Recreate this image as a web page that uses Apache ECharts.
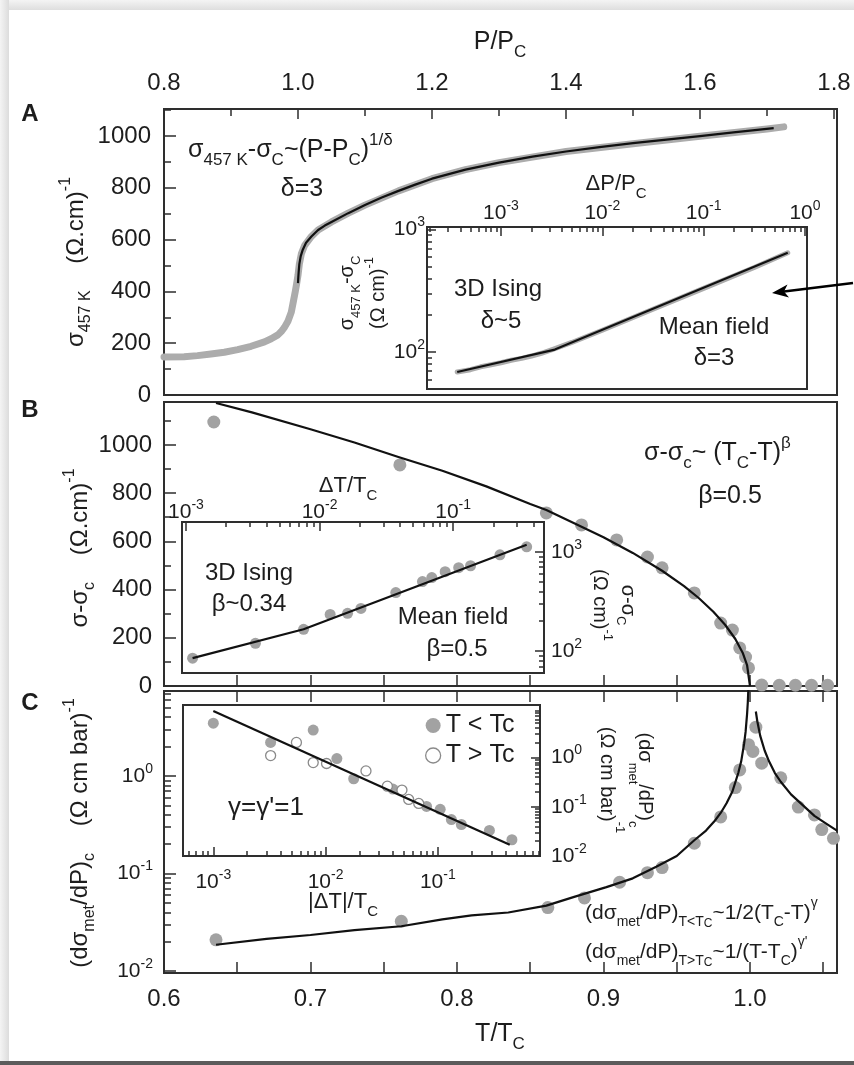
<!DOCTYPE html>
<html><head><meta charset="utf-8">
<script src="https://cdn.jsdelivr.net/npm/echarts@6/dist/echarts.min.js"></script>
<style>html,body{margin:0;padding:0;background:#fff}#c{width:854px;height:1065px}</style>
</head><body><div id="c"></div><script>
// ================= DATA =================
// Panel A: sigma(457 K) vs P/Pc
const pA      = [0.80,0.83,0.85,0.87,0.89,0.91,0.93,0.95,0.96,0.97,0.975,0.98,0.985,0.99,0.993,0.996,0.998,1.000,1.002,1.005,1.01,1.02,1.03,1.05,1.075,1.10,1.15,1.20,1.25,1.30,1.40,1.50,1.60,1.70,1.725];
const sigmaA  = [147,148,152,158,165,175,188,205,217,232,245,262,285,320,360,400,430,462,505,545,578,612,637,668,702,733,788,835,870,897,940,970,999,1027,1035];
const pAFit   = [1.000,1.0005,1.001,1.002,1.004,1.007,1.012,1.02,1.03,1.04,1.05,1.075,1.10,1.125,1.15,1.175,1.20,1.25,1.30,1.35,1.40,1.45,1.50,1.55,1.60,1.65,1.71];
const sigmaAFit = [432,455,475,505,535,560,588,612,637,654,668,702,733,762,788,812,835,870,897,920,940,957,972,986,999,1014,1030];
// Panel A inset: sigma457K - sigmaC vs dP/Pc (log-log)
const dPIn    = [0.00037,0.0005,0.00063,0.0008,0.001,0.00126,0.0016,0.002,0.0025,0.0032,0.005,0.01,0.0316,0.1,0.316,0.676];
const dSigIn  = [69,72,76,79,82,86,89,93,98,105,120,151,224,331,490,646];
const dPFit   = [0.00037,0.0034,0.676];
const dSigFit = [69,105,646];
// Panel B: sigma - sigma_c vs T/Tc
const tB      = [0.634,0.761,0.861,0.885,0.909,0.930,0.940,0.962,0.980,0.988,0.993,0.997,0.999,1.008,1.020,1.031,1.042,1.053];
const sigB    = [1095,917,718,668,606,535,490,386,261,232,158,120,75,4,3,3,3,3];
const tBFit   = [0.6355,0.66,0.70,0.73,0.76,0.79,0.82,0.85,0.861,0.88,0.90,0.92,0.94,0.955,0.965,0.975,0.983,0.99,0.995,0.998,1.0];
const sigBFit = [1174,1135,1065,1010,950,893,828,755,730,675,617,552,478,414,365,308,254,195,138,87,0];
// Panel B inset: log-log vs dT/Tc
const dTBIn   = [0.00112,0.00331,0.00759,0.0120,0.0162,0.0204,0.0372,0.0589,0.0692,0.0871,0.110,0.135,0.224,0.355];
const sigBIn  = [85,120,166,234,240,269,389,501,550,631,692,724,933,1122];
const dTBFit  = [0.00112,0.00759,0.355];
const sigBFitIn = [85,166,1175];
// Panel C: (d sigma_met/dP)_c vs T/Tc
const tC      = [0.6355,0.762,0.862,0.887,0.911,0.930,0.940,0.962,0.980,0.990,0.993,0.999,1.004,1.002,1.008,1.021,1.033,1.044,1.049,1.057];
const dsC     = [0.0209,0.0324,0.0447,0.0562,0.0813,0.102,0.115,0.204,0.380,0.759,1.15,2.09,3.16,1.78,1.35,0.955,0.479,0.398,0.282,0.229];
const tCFitL  = [0.6355,0.67,0.70,0.73,0.762,0.79,0.81,0.835,0.861,0.88,0.902,0.92,0.936,0.95,0.962,0.97,0.976,0.980,0.984,0.988,0.992,0.994,0.996,0.997,0.998,0.9985,0.999];
const dsCFitL = [0.0186,0.0214,0.0234,0.0263,0.0288,0.0339,0.0372,0.0398,0.0468,0.0575,0.0724,0.0891,0.117,0.151,0.219,0.275,0.347,0.417,0.525,0.692,1.07,1.41,2.14,2.82,4.27,5.62,8.51];
const tCFitR  = [1.004,1.005,1.007,1.010,1.013,1.017,1.021,1.028,1.036,1.044,1.052,1.0594];
const dsCFitR = [4.57,3.63,2.57,1.82,1.41,1.07,0.871,0.646,0.501,0.389,0.324,0.275];
// Panel C inset: vs |dT|/Tc
const dTCbelow = [0.001,0.00324,0.00776,0.0126,0.0178,0.0398,0.0794,0.105,0.132,0.162,0.288,0.457];
const dsCbelow = [5.01,2.04,3.63,0.955,0.372,0.229,0.102,0.0891,0.0550,0.0437,0.0331,0.0214];
const dTCabove = [0.00324,0.0055,0.00776,0.0102,0.0229,0.0355,0.0479,0.0550,0.0676];
const dsCabove = [1.10,2.04,0.794,0.759,0.537,0.263,0.219,0.141,0.117];
const dTCFit   = [0.001,0.437];
const dsCFit   = [8.91,0.0170];
// Tick values
const pTicks      = [0.8,1.0,1.2,1.4,1.6,1.8];
const pMinor      = [0.9,1.1,1.3,1.5,1.7];
const sigTicks    = [0,200,400,600,800,1000];
const sigMinor    = [100,300,500,700,900,1100];
const tLabels     = [0.6,0.7,0.8,0.9,1.0];
const tTickVals   = [0.6,0.65,0.7,0.75,0.8,0.85,0.9,0.95,1.0,1.05];
const decAiX = [-3,-2,-1,0], decAiY = [2,3];
const decBiX = [-3,-2,-1],   decBiY = [2,3];
const decCY  = [-2,-1,0];
const decCiX = [-3,-2,-1],   decCiY = [-2,-1,0];

// ================= STYLE / HELPERS =================
const F = "'Liberation Sans', Arial, Helvetica, sans-serif";
const INK = '#1d1d1d', FRAME = '#2e2e2e', DOT = '#a2a2a2';
const lg = v => Math.log10(v);
const id = v => v;
const zip = (a, b, fx = id, fy = id) => a.map((v, i) => [fx(v), fy(b[i])]);
function logMinor(lo, hi) {
  const out = [];
  for (let d = Math.floor(lo); d <= Math.ceil(hi); d++)
    for (let k = 2; k <= 9; k++) { const v = d + Math.log10(k); if (v > lo + 1e-6 && v < hi - 1e-6) out.push(v); }
  return out;
}
const logRich = {
  b: {fontSize: 21, fontFamily: F, color: INK, lineHeight: 28},
  s: {fontSize: 14, fontFamily: F, color: INK, lineHeight: 14, verticalAlign: 'top'}
};
const logFmt = v => '{b|10}{s|' + Math.round(v) + '}';
const plainFmt = v => String(v);

function axis(gridIndex, position, min, max, o = {}) {
  return {
    type: 'value', gridIndex, position, min, max, show: true,
    axisLine: {show: false, onZero: false}, splitLine: {show: false}, minorTick: {show: false},
    axisTick: o.ticks ? {show: true, inside: true, length: o.len || 11, customValues: o.ticks,
      lineStyle: {color: FRAME, width: 1.5}} : {show: false},
    axisLabel: o.labels ? {show: true, customValues: o.labels, margin: o.margin, formatter: o.fmt || plainFmt,
      fontSize: o.fs || 24, fontFamily: F, color: INK, rich: o.rich} : {show: false}
  };
}
function grid(left, top, width, height, show) {
  return {left, top, width, height, show, borderColor: FRAME, borderWidth: 2,
    backgroundColor: 'transparent', containLabel: false, outerBoundsMode: 'none'};
}
function rs(fs, s) {
  s = s || Math.round(fs * 0.66);
  return {
    n:   {fontSize: fs, fontFamily: F, fill: INK, lineHeight: fs + 12},
    sub: {fontSize: s, fontFamily: F, fill: INK, lineHeight: s + 1, verticalAlign: 'bottom'},
    sup: {fontSize: s, fontFamily: F, fill: INK, lineHeight: s + 1, verticalAlign: 'top'},
    ss:  {fontSize: Math.round(s * 0.85), fontFamily: F, fill: INK, lineHeight: s - 2, verticalAlign: 'bottom'},
    bd:  {fontSize: fs, fontFamily: F, fill: INK, fontWeight: 'bold', lineHeight: fs + 12}
  };
}
function txt(x, y, text, fs, o = {}) {
  const rich = rs(fs, o.sub);
  if (o.lh) rich.n.lineHeight = o.lh;
  return {type: 'text', x, y, rotation: o.rot || 0, z: 100, silent: true,
    style: {legacy: false, text, rich, align: o.align || 'center', verticalAlign: 'middle',
      fill: INK, fontFamily: F, fontSize: fs}};
}

// grid rectangles
const gA  = [164,109,673,286], gAi = [427,227,380,162];
const gB  = [164,402,673,284], gBi = [182,522,362,151];
const gC  = [164,691,673,282], gCi = [183,705,357,151];
const rAi = [-3.73, 0.02, 1.70, 3.02];
const rBi = [-3.03, -0.32, 1.78, 3.30];
const rC  = [-2.02, 0.87];
const rCi = [-3.27, -0.09, -2.0, 1.07];

const grids = [
  grid(...gA, true), grid(...gA, false),
  grid(...gAi, true), grid(...gAi, false),
  grid(...gB, true), grid(...gB, false),
  grid(...gBi, true), grid(...gBi, false),
  grid(...gC, true), grid(...gC, false),
  grid(...gCi, true), grid(...gCi, false)
];
const fmt1 = v => v.toFixed(1);
const xAxes = [
  axis(0, 'top', 0.8, 1.8045, {ticks: pTicks, labels: pTicks, margin: 14, fmt: fmt1, len: 10}),
  axis(1, 'top', 0.8, 1.8045, {ticks: pMinor, len: 7}),
  axis(2, 'top', rAi[0], rAi[1], {ticks: decAiX, labels: decAiX, margin: 0, fmt: logFmt, rich: logRich, len: 9}),
  axis(3, 'top', rAi[0], rAi[1], {ticks: logMinor(rAi[0], rAi[1]), len: 5}),
  axis(4, 'bottom', 0.6, 1.0594, {ticks: tTickVals, len: 11}),
  axis(5, 'bottom', 0.6, 1.0594, {}),
  axis(6, 'top', rBi[0], rBi[1], {ticks: decBiX, labels: decBiX, margin: -4, fmt: logFmt, rich: logRich, len: 9}),
  axis(7, 'top', rBi[0], rBi[1], {ticks: logMinor(rBi[0], rBi[1]), len: 5}),
  axis(8, 'bottom', 0.6, 1.0594, {ticks: tTickVals, labels: tLabels, margin: 14, fmt: fmt1, len: 11}),
  axis(9, 'top', 0.6, 1.0594, {ticks: tTickVals, len: 11}),
  axis(10, 'bottom', rCi[0], rCi[1], {ticks: decCiX, labels: decCiX, margin: 12, fmt: logFmt, rich: logRich, len: 9}),
  axis(11, 'bottom', rCi[0], rCi[1], {ticks: logMinor(rCi[0], rCi[1]), len: 5})
];
const yAxes = [
  axis(0, 'left', 0, 1104, {ticks: sigTicks, labels: sigTicks, margin: 13, len: 12}),
  axis(1, 'left', 0, 1104, {ticks: sigMinor, len: 7}),
  axis(2, 'left', rAi[2], rAi[3], {ticks: decAiY, labels: decAiY, margin: 2, fmt: logFmt, rich: logRich, len: 9}),
  axis(3, 'left', rAi[2], rAi[3], {ticks: logMinor(rAi[2], rAi[3]), len: 5}),
  axis(4, 'left', 0, 1178, {ticks: sigTicks, labels: sigTicks, margin: 12, len: 12}),
  axis(5, 'left', 0, 1178, {ticks: sigMinor, len: 7}),
  axis(6, 'right', rBi[2], rBi[3], {ticks: decBiY, labels: decBiY, margin: 7, fmt: logFmt, rich: logRich, len: 9}),
  axis(7, 'right', rBi[2], rBi[3], {ticks: logMinor(rBi[2], rBi[3]), len: 5}),
  axis(8, 'left', rC[0], rC[1], {ticks: decCY, labels: decCY, margin: 11, fmt: logFmt, rich: logRich, len: 12}),
  axis(9, 'left', rC[0], rC[1], {ticks: logMinor(rC[0], rC[1]), len: 7}),
  axis(10, 'right', rCi[2], rCi[3], {ticks: decCiY, labels: decCiY, margin: 11, fmt: logFmt, rich: logRich, len: 9}),
  axis(11, 'right', rCi[2], rCi[3], {ticks: logMinor(rCi[2], rCi[3]), len: 5})
];

const band = (w) => ({lineStyle: {color: '#acacac', width: w, cap: 'round', join: 'round'}, symbol: 'none', z: 3});
const fitStyle = {lineStyle: {color: '#111', width: 2.2, join: 'round'}, symbol: 'none', z: 5, smooth: false};
const dots = (size) => ({symbol: 'circle', symbolSize: size, itemStyle: {color: DOT, opacity: 1}, z: 3});
const openDot = {symbol: 'circle', symbolSize: 10, itemStyle: {color: '#ffffff', borderColor: '#8a8a8a', borderWidth: 1.3, opacity: 1}, z: 3};

const series = [
  Object.assign({type: 'line', name: 'A data', xAxisIndex: 0, yAxisIndex: 0, data: zip(pA, sigmaA)}, band(7)),
  Object.assign({type: 'line', name: 'A fit', xAxisIndex: 0, yAxisIndex: 0, data: zip(pAFit, sigmaAFit)}, fitStyle),
  Object.assign({type: 'line', name: 'Ai data', xAxisIndex: 2, yAxisIndex: 2, data: zip(dPIn, dSigIn, lg, lg)}, band(5)),
  Object.assign({type: 'line', name: 'Ai fit', xAxisIndex: 2, yAxisIndex: 2, data: zip(dPFit, dSigFit, lg, lg)}, fitStyle),
  Object.assign({type: 'scatter', name: 'B data', xAxisIndex: 4, yAxisIndex: 4, data: zip(tB, sigB), clip: false}, dots(13)),
  Object.assign({type: 'line', name: 'B fit', xAxisIndex: 4, yAxisIndex: 4, data: zip(tBFit, sigBFit)}, fitStyle),
  Object.assign({type: 'scatter', name: 'Bi data', xAxisIndex: 6, yAxisIndex: 6, data: zip(dTBIn, sigBIn, lg, lg)}, dots(11)),
  Object.assign({type: 'line', name: 'Bi fit', xAxisIndex: 6, yAxisIndex: 6, data: zip(dTBFit, sigBFitIn, lg, lg)}, fitStyle),
  Object.assign({type: 'scatter', name: 'C data', xAxisIndex: 8, yAxisIndex: 8, data: zip(tC, dsC, id, lg)}, dots(13)),
  Object.assign({type: 'line', name: 'C fit below', xAxisIndex: 8, yAxisIndex: 8, data: zip(tCFitL, dsCFitL, id, lg)}, fitStyle),
  Object.assign({type: 'line', name: 'C fit above', xAxisIndex: 8, yAxisIndex: 8, data: zip(tCFitR, dsCFitR, id, lg)}, fitStyle),
  Object.assign({type: 'scatter', name: 'T<Tc', xAxisIndex: 10, yAxisIndex: 10, data: zip(dTCbelow, dsCbelow, lg, lg)}, dots(11)),
  Object.assign({type: 'scatter', name: 'T>Tc', xAxisIndex: 10, yAxisIndex: 10, data: zip(dTCabove, dsCabove, lg, lg)}, openDot),
  Object.assign({type: 'line', name: 'Ci fit', xAxisIndex: 10, yAxisIndex: 10, data: zip(dTCFit, dsCFit, lg, lg)}, fitStyle)
];

// ================= ANNOTATIONS =================
const graphics = [
  {type: 'rect', shape: {x: 0, y: 0, width: 854, height: 10}, style: {fill: {type: 'linear', x: 0, y: 0, x2: 0, y2: 1,
    colorStops: [{offset: 0, color: '#f4f4f4'}, {offset: 1, color: '#dedede'}]}}, silent: true, z: 0},
  {type: 'rect', shape: {x: 0, y: 0, width: 9, height: 1065}, style: {fill: {type: 'linear', x: 0, y: 0, x2: 1, y2: 0,
    colorStops: [{offset: 0, color: '#f4f4f4'}, {offset: 1, color: '#dcdcdc'}]}}, silent: true, z: 0},
  {type: 'rect', shape: {x: 0, y: 1061, width: 854, height: 4}, style: {fill: '#5c5c5c'}, silent: true, z: 0},
  // axis titles
  txt(500, 42, '{n|P/P}{sub|C}', 25),
  txt(500, 1034, '{n|T/T}{sub|C}', 25),
  // panel letters
  txt(30, 114, '{bd|A}', 24), txt(30, 410, '{bd|B}', 24), txt(30, 703, '{bd|C}', 24),
  // panel A
  txt(76, 262, '{n|σ}{sub|457 K}{n|    (Ω.cm)}{sup|-1}', 24, {rot: Math.PI / 2}),
  txt(188, 150, '{n|σ}{sub|457 K}{n|-σ}{sub|C}{n|~(P-P}{sub|C}{n|)}{sup|1/δ}', 25, {align: 'left'}),
  txt(302, 189, '{n|δ=3}', 25),
  txt(616, 184, '{n|ΔP/P}{sub|C}', 22),
  txt(363, 293, '{n|σ}{sub|457 K}{n|-σ}{sub|C}\n{n|(Ω cm)}{sup|-1}', 20, {rot: Math.PI / 2, lh: 31}),
  txt(498, 289, '{n|3D Ising}', 24), txt(501, 321, '{n|δ~5}', 24),
  txt(714, 327, '{n|Mean field}', 24), txt(714, 358, '{n|δ=3}', 24),
  // panel B
  txt(80, 548, '{n|σ-σ}{sub|c}{n|    (Ω.cm)}{sup|-1}', 24, {rot: Math.PI / 2}),
  txt(644, 453, '{n|σ-σ}{sub|c}{n|~ (T}{sub|C}{n|-T)}{sup|β}', 25, {align: 'left'}),
  txt(730, 496, '{n|β=0.5}', 25),
  txt(348, 486, '{n|ΔT/T}{sub|C}', 22),
  txt(614, 605, '{n|σ-σ}{sub|C}\n{n|(Ω cm)}{sup|-1}', 20, {rot: -Math.PI / 2, lh: 28}),
  txt(249, 573, '{n|3D Ising}', 24), txt(249, 604, '{n|β~0.34}', 24),
  txt(453, 617, '{n|Mean field}', 24), txt(457, 649, '{n|β=0.5}', 24),
  // panel C
  txt(80, 833, '{n|(dσ}{sub|met}{n|/dP)}{sub|c}{n|    (Ω cm bar)}{sup|-1}', 24, {rot: Math.PI / 2}),
  txt(343, 902, '{n||ΔT|/T}{sub|C}', 22),
  txt(626, 780, '{n|(dσ}{sub|met}{n|/dP)}{sub|c}\n{n|(Ω cm bar)}{sup|-1}', 20, {rot: -Math.PI / 2, lh: 38}),
  txt(266, 808, "{n|γ=γ'=1}", 26),
  txt(585, 913, '{n|(dσ}{sub|met}{n|/dP)}{sub|T<T}{ss|C}{n|~1/2(T}{sub|C}{n|-T)}{sup|γ}', 21, {align: 'left', sub: 14}),
  txt(585, 952, "{n|(dσ}{sub|met}{n|/dP)}{sub|T>T}{ss|C}{n|~1/(T-T}{sub|C}{n|)}{sup|γ'}", 21, {align: 'left', sub: 14}),
  // arrow
  {type: 'line', shape: {x1: 853, y1: 283, x2: 784, y2: 291.5}, style: {stroke: '#000', lineWidth: 2.5}, z: 100, silent: true},
  {type: 'polygon', shape: {points: [[772, 293], [789, 297.5], [784, 291.5], [787.5, 284.5]]}, style: {fill: '#000'}, z: 100, silent: true}
];

const chart = echarts.init(document.getElementById('c'), null, {renderer: 'canvas'});
chart.setOption({
  animation: false,
  backgroundColor: '#fff',
  grid: grids, xAxis: xAxes, yAxis: yAxes, series,
  legend: {show: true, orient: 'vertical', left: 420, top: 708, itemWidth: 15, itemHeight: 15, itemGap: 5,
    selectedMode: false,
    data: [
      {name: 'T<Tc', icon: 'circle', itemStyle: {color: DOT, borderWidth: 0}},
      {name: 'T>Tc', icon: 'circle', itemStyle: {color: '#fff', borderColor: '#8a8a8a', borderWidth: 1.3}}
    ],
    formatter: name => name.replace(/([<>])/, ' $1 '),
    textStyle: {fontSize: 25, fontFamily: F, color: INK}},
  graphic: {elements: graphics}
});
</script></body></html>
